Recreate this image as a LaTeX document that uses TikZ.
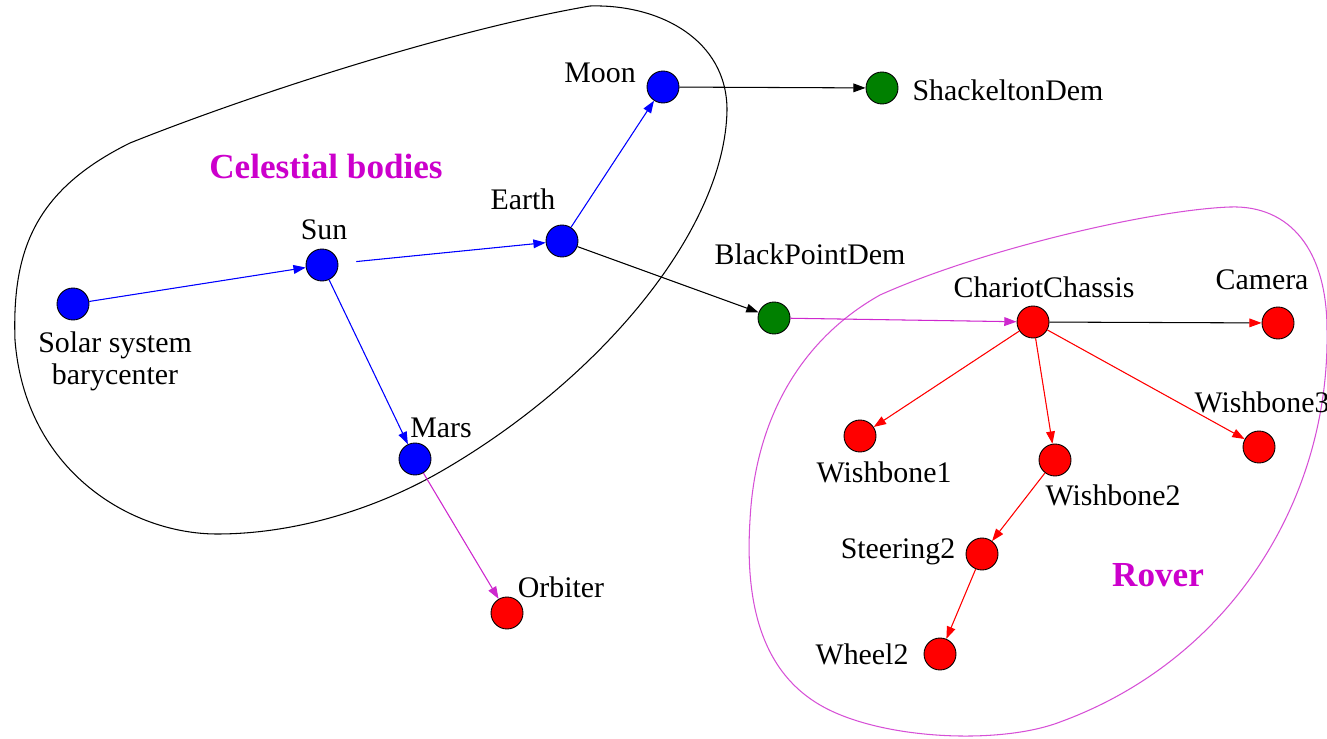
\documentclass[tikz,border=0pt]{standalone}
\usepackage{fontspec}
\setmainfont{Liberation Serif}
\usetikzlibrary{arrows.meta}
\usetikzlibrary{positioning}
\definecolor{demgreen}{RGB}{0,128,0}
\definecolor{grouptext}{RGB}{204,0,204}
\definecolor{groupline}{RGB}{214,80,214}
\definecolor{linkmagenta}{RGB}{206,40,206}

\begin{document}
\begin{tikzpicture}
	[
	x=0.02cm, y=-0.02cm,
	> = {Triangle[length=7pt,width=5pt]},
	every node/.style={font=\fontsize{17}{18}\selectfont},
	dot/.style = {draw, circle, fill=#1, inner sep=0pt, minimum size=0.64cm, line width=0.5pt},
	lbl/.style = {inner sep=0pt, anchor=base},
	grouplabel/.style = {inner sep=0pt, anchor=base, text=grouptext, font=\fontsize{20}{22}\selectfont\bfseries},
	link/.style = {->, draw=#1, fill=#1, line width=0.6pt},
	blob/.style = {draw=#1, line width=0.6pt}
	]
	\useasboundingbox (0,0) rectangle (1327,739);

	\draw[blob=black] (590,6) .. controls (660,4) and (727,40) .. (727,110)
		.. controls (725,230) and (600,380) .. (440,472)
		.. controls (370,512) and (290,534) .. (217,534)
		.. controls (130,534) and (25,470) .. (15,340)
		.. controls (12,250) and (35,190) .. (130,143)
		.. controls (250,95) and (450,30) .. (590,6) -- cycle;
	\draw[blob=groupline] (1230,207) .. controls (1290,205) and (1327,250) .. (1327,330)
		.. controls (1330,500) and (1230,660) .. (1060,722)
		.. controls (1000,745) and (880,740) .. (820,705)
		.. controls (760,670) and (745,600) .. (750,520)
		.. controls (755,420) and (800,340) .. (880,295)
		.. controls (980,250) and (1150,210) .. (1230,207) -- cycle;

	\node[grouplabel] (celestial) at (326,179) {Celestial bodies};
	\node[grouplabel] (rover) at (1158,586) {Rover};

	\node[dot=blue] (ssb) at (73,304) {};
	\node[dot=blue] (sun) at (322,265) {};
	\node[dot=blue] (earth) at (562,241) {};
	\node[dot=blue] (moon) at (663,87) {};
	\node[dot=blue] (mars) at (415,459) {};
	\node[dot=demgreen] (shackleton) at (882,88) {};
	\node[dot=demgreen] (blackpoint) at (774,318) {};
	\node[dot=red] (orbiter) at (507,613) {};
	\node[dot=red] (chassis) at (1033,322) {};
	\node[dot=red] (camera) at (1278,323) {};
	\node[dot=red] (wb1) at (860,436) {};
	\node[dot=red] (wb2) at (1055,460) {};
	\node[dot=red] (wb3) at (1259,447) {};
	\node[dot=red] (steer2) at (982,554) {};
	\node[dot=red] (wheel2) at (940,654) {};

	\node[lbl, align=center] (ssb-l) at (115,384) {Solar system\\barycenter};
	\node[lbl] (sun-l) at (324,240) {Sun};
	\node[lbl] (earth-l) at (523,210) {Earth};
	\node[lbl] (moon-l) at (600,83) {Moon};
	\node[lbl] (mars-l) at (441,437) {Mars};
	\node[lbl] (shackleton-l) at (1008,101) {ShackeltonDem};
	\node[lbl] (blackpoint-l) at (810,265) {BlackPointDem};
	\node[lbl] (orbiter-l) at (561,597) {Orbiter};
	\node[lbl] (chassis-l) at (1044,298) {ChariotChassis};
	\node[lbl] (camera-l) at (1262,290) {Camera};
	\node[lbl] (wb1-l) at (884,482) {Wishbone1};
	\node[lbl] (wb2-l) at (1113,505) {Wishbone2};
	\node[lbl] (wb3-l) at (1262,412) {Wishbone3};
	\node[lbl] (steer2-l) at (898,558) {Steering2};
	\node[lbl] (wheel2-l) at (862,664) {Wheel2};

	\draw[link=blue] (ssb) -- (sun);
	\draw[link=blue, shorten <=0.36cm] (sun) -- (earth);
	\draw[link=blue] (earth) -- (moon);
	\draw[link=blue] (sun) -- (mars);
	\draw[link=black] (moon) -- (shackleton);
	\draw[link=black] (earth) -- (blackpoint);
	\draw[link=linkmagenta] (blackpoint) -- (chassis);
	\draw[link=linkmagenta] (mars) -- (orbiter);
	\draw[link=black, -{Triangle[length=7pt,width=5pt,color=red]}] (chassis) -- (camera);
	\draw[link=red] (chassis) -- (wb1);
	\draw[link=red] (chassis) -- (wb2);
	\draw[link=red] (chassis) -- (wb3);
	\draw[link=red] (wb2) -- (steer2);
	\draw[link=red] (steer2) -- (wheel2);
\end{tikzpicture}
\end{document}
